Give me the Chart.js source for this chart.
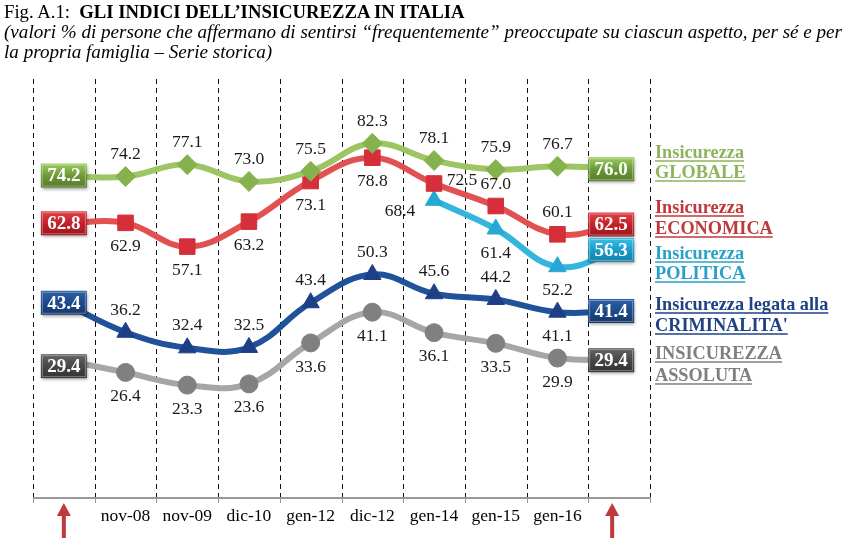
<!DOCTYPE html>
<html><head><meta charset="utf-8">
<script src="https://cdn.jsdelivr.net/npm/chart.js@4.4.1/dist/chart.umd.min.js"></script>
<style>
html,body{margin:0;padding:0;background:#fff;}
body{width:849px;height:538px;overflow:hidden;position:relative;font-family:"Liberation Serif","Times New Roman",serif;color:#000;}
#c{position:absolute;left:0;top:0;}
#title{position:absolute;left:4px;top:1px;font-size:18.7px;line-height:21px;white-space:nowrap;}
#title b{font-weight:bold;}
#sub{position:absolute;left:4px;top:22px;font-size:19.1px;line-height:20px;font-style:italic;white-space:nowrap;}
</style></head>
<body>
<canvas id="c" width="849" height="538"></canvas>
<div id="title">Fig. A.1:&nbsp; <b>GLI INDICI DELL’INSICUREZZA IN ITALIA</b></div>
<div id="sub">(valori % di persone che affermano di sentirsi “frequentemente” preoccupate su ciascun aspetto, per sé e per<br>la propria famiglia – Serie storica)</div>
<script>
// ---- data ----
const categories = ['', 'nov-08', 'nov-09', 'dic-10', 'gen-12', 'dic-12', 'gen-14', 'gen-15', 'gen-16', ''];
const globale    = [74.2, 74.2, 77.1, 73.0, 75.5, 82.3, 78.1, 75.9, 76.7, 76.0];
const economica  = [62.8, 62.9, 57.1, 63.2, 73.1, 78.8, 72.5, 67.0, 60.1, 62.5];
const politica   = [null, null, null, null, null, null, 68.4, 61.4, 52.2, 56.3];
const criminalita= [43.4, 36.2, 32.4, 32.5, 43.4, 50.3, 45.6, 44.2, 41.1, 41.4];
const assoluta   = [29.4, 26.4, 23.3, 23.6, 33.6, 41.1, 36.1, 33.5, 29.9, 29.4];
const legendGlobale     = ['Insicurezza', 'GLOBALE'];
const legendEconomica   = ['Insicurezza', 'ECONOMICA'];
const legendPolitica    = ['Insicurezza', 'POLITICA'];
const legendCriminalita = ['Insicurezza legata alla', "CRIMINALITA'"];
const legendAssoluta    = ['INSICUREZZA', 'ASSOLUTA'];

// ---- styling ----
const styles = [
  {data: globale, legend: legendGlobale, line:'#9dc563', marker:'#86b24e', box:['#9ccb62','#6d9a38','#557a2a'], text:'#8db45a', ps:'rectRot', r:10,
   lab:['','a','a','a','a','a','a','a','a',''], legY:[152,172], boxDy:-1},
  {data: economica, legend: legendEconomica, line:'#e25151', marker:'#d42f3a', box:['#e0434b','#c32129','#9a161c'], text:'#c0383e', ps:'rect', r:11,
   lab:['','b','b','b','b','b','r','a','a',''], legY:[207,228], boxDy:0},
  {data: politica, legend: legendPolitica, line:'#33b5dc', marker:'#25a9d4', box:['#3ac0e6','#1a9cc9','#147ea3'], text:'#2aa0c8', ps:'triangle', r:10,
   lab:['','','','','','','l','b','b',''], legY:[253,273], boxDy:0},
  {data: criminalita, legend: legendCriminalita, line:'#1f5299', marker:'#1d3f85', box:['#2e62a8','#1d4a8a','#143766'], text:'#1f4283', ps:'triangle', r:10,
   lab:['','a','a','a','a','a','a','a','b',''], legY:[304,325], boxDy:0},
  {data: assoluta, legend: legendAssoluta, line:'#a6a6a6', marker:'#808080', box:['#666666','#474747','#333333'], text:'#7f7f7f', ps:'circle', r:9,
   lab:['','b','b','b','b','b','b','b','b',''], legY:[353,375], boxDy:6}
];

const datasets = styles.map(s => ({
  data: s.data,
  borderColor: s.line,
  borderWidth: 6,
  tension: 0.4,
  pointStyle: s.ps,
  pointRadius: ctx => (ctx.dataIndex === 0 || ctx.dataIndex === 9) ? 0 : s.r,
  pointBackgroundColor: s.marker,
  pointBorderColor: s.marker,
  pointBorderWidth: 1,
  spanGaps: false,
  clip: false
}));

const SERIF = '"Liberation Serif","Times New Roman",serif';

const overlay = {
  id: 'overlay',
  beforeDatasetsDraw(chart) {
    const ctx = chart.ctx, x = chart.scales.x, a = chart.chartArea;
    const w = x.getPixelForValue(1) - x.getPixelForValue(0);
    ctx.save();
    ctx.strokeStyle = '#111';
    ctx.lineWidth = 1;
    ctx.setLineDash([5, 4]);
    for (let i = 0; i <= categories.length; i++) {
      const px = Math.round(x.getPixelForValue(0) - w / 2 + i * w) + 0.5;
      ctx.beginPath(); ctx.moveTo(px, a.top); ctx.lineTo(px, a.bottom); ctx.stroke();
    }
    ctx.setLineDash([]);
    ctx.strokeStyle = '#9a9a9a';
    ctx.lineWidth = 2;
    ctx.beginPath(); ctx.moveTo(a.left, a.bottom + 1); ctx.lineTo(a.right + 1, a.bottom + 1); ctx.stroke();
    ctx.lineWidth = 1;
    for (let i = 0; i <= categories.length; i++) {
      const px = Math.round(x.getPixelForValue(0) - w / 2 + i * w) + 0.5;
      ctx.beginPath(); ctx.moveTo(px, a.bottom + 2); ctx.lineTo(px, a.bottom + 6); ctx.stroke();
    }
    // category labels
    ctx.fillStyle = '#000';
    ctx.font = '17.5px ' + SERIF;
    ctx.textAlign = 'center'; ctx.textBaseline = 'middle';
    categories.forEach((c, i) => { if (c) ctx.fillText(c, x.getPixelForValue(i), a.bottom + 8 + 11); });
    // arrows
    ctx.fillStyle = '#c0393d'; ctx.strokeStyle = '#c0393d';
    [x.getPixelForValue(0), x.getPixelForValue(categories.length - 1) - 7].forEach(px => {
      ctx.lineWidth = 4;
      ctx.beginPath(); ctx.moveTo(px, 538); ctx.lineTo(px, 514); ctx.stroke();
      ctx.beginPath(); ctx.moveTo(px, 503); ctx.lineTo(px - 7, 516); ctx.lineTo(px + 7, 516); ctx.closePath(); ctx.fill();
    });
    ctx.restore();
  },
  afterDatasetsDraw(chart) {
    const ctx = chart.ctx;
    ctx.save();
    styles.forEach((s, di) => {
      const meta = chart.getDatasetMeta(di);
      // data labels
      ctx.font = '17.5px ' + SERIF;
      ctx.fillStyle = '#1a1a1a';
      ctx.textBaseline = 'middle';
      meta.data.forEach((pt, i) => {
        const pos = s.lab[i];
        if (!pos || s.data[i] == null) return;
        const t = s.data[i].toFixed(1);
        let lx = pt.x, ly = pt.y;
        ctx.textAlign = 'center';
        if (pos === 'a') ly -= 22;
        else if (pos === 'b') ly += 24;
        else if (pos === 'r') { lx += 28; ly -= 3; }
        else if (pos === 'l') { lx -= 34; ly += 11; }
        ctx.fillText(t, lx, ly);
      });
      // end boxes
      [0, 9].forEach(i => {
        if (s.data[i] == null) return;
        const pt = meta.data[i];
        const cx = i === 0 ? pt.x : pt.x - 8;
        const cy = pt.y + (i === 0 ? s.boxDy : 0);
        const bw = 46, bh = 24;
        const x0 = cx - bw / 2, y0 = cy - bh / 2;
        ctx.save();
        ctx.shadowColor = 'rgba(0,0,0,0.35)';
        ctx.shadowBlur = 3; ctx.shadowOffsetX = 1; ctx.shadowOffsetY = 2;
        const g = ctx.createLinearGradient(0, y0, 0, y0 + bh);
        g.addColorStop(0, s.box[0]); g.addColorStop(0.5, s.box[1]); g.addColorStop(1, s.box[2]);
        ctx.fillStyle = g;
        ctx.fillRect(x0, y0, bw, bh);
        ctx.restore();
        ctx.strokeStyle = 'rgba(255,255,255,0.35)';
        ctx.lineWidth = 1;
        ctx.strokeRect(x0 + 1.5, y0 + 1.5, bw - 3, bh - 3);
        ctx.fillStyle = '#fff';
        ctx.font = 'bold 19px ' + SERIF;
        ctx.textAlign = 'center';
        ctx.textBaseline = 'middle';
        ctx.fillText(s.data[i].toFixed(1), cx, cy + 1);
      });
      // legend text
      ctx.font = 'bold 18.3px ' + SERIF;
      ctx.fillStyle = s.text; ctx.strokeStyle = s.text;
      ctx.textAlign = 'left'; ctx.textBaseline = 'alphabetic';
      s.legend.forEach((t, k) => {
        const by = s.legY[k] + 6;
        ctx.fillText(t, 655, by);
        const tw = ctx.measureText(t).width;
        ctx.lineWidth = 1.5;
        ctx.beginPath(); ctx.moveTo(655, by + 3); ctx.lineTo(655 + tw, by + 3); ctx.stroke();
      });
    });
    ctx.restore();
  }
};

new Chart(document.getElementById('c'), {
  type: 'line',
  data: { labels: categories, datasets },
  options: {
    responsive: false,
    devicePixelRatio: 1,
    animation: false,
    layout: { padding: { left: 33, top: 79, right: 199, bottom: 41 } },
    plugins: { legend: { display: false }, title: { display: false }, tooltip: { enabled: false } },
    scales: {
      x: { type: 'category', offset: true, display: false },
      y: { min: -4, max: 98, display: false }
    }
  },
  plugins: [overlay]
});
</script>
</body></html>
